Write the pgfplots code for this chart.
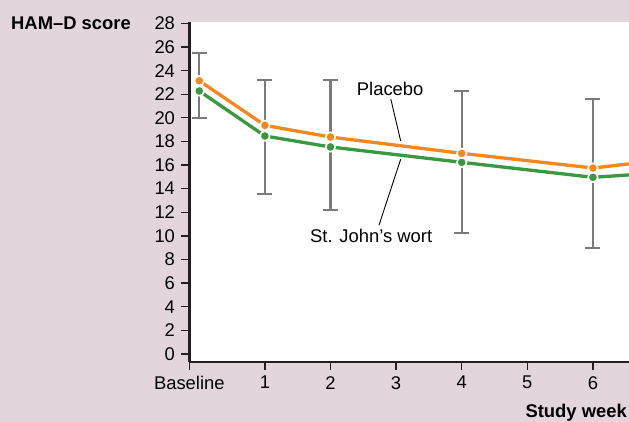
\documentclass[border=0pt]{standalone}
\usepackage{pgfplots}
\pgfplotsset{compat=1.18}
\usepackage{fontspec}
\setmainfont{Liberation Sans}
\definecolor{bgpink}{RGB}{227,213,220}
\definecolor{plorange}{RGB}{245,135,31}
\definecolor{sjgreen}{RGB}{58,152,64}
\definecolor{errgray}{RGB}{122,122,122}
\definecolor{axblack}{RGB}{35,31,32}
\begin{document}
\fontsize{18.4}{22}\selectfont
\begin{tikzpicture}
\path[use as bounding box, fill=bgpink] (0,0) rectangle (629pt,422pt);
\begin{axis}[
  scale only axis, width=439.7pt, height=340.3pt,
  at={(189.3pt,60pt)}, anchor=south west,
  xmin=-0.152, xmax=6.55, ymin=-0.68, ymax=28.14,
  axis lines*=left,
  axis line style={-, line width=2.4pt, color=axblack},
  axis background/.style={fill=white},
  xtick={-0.152,1,2,3,4,5,6}, xticklabels={Baseline,1,2,3,4,5,6},
  ytick={0,2,...,28},
  tick align=outside, major tick length=8pt,
  tick style={line width=1.3pt, color=axblack},
  ticklabel style={font=\fontsize{18.4}{22}\selectfont, text=black},
  /pgf/number format/assume math mode=true,
  clip marker paths=true,
]
\addplot[forget plot, draw=none, mark=none,
  error bars/.cd, y dir=both, y explicit, error mark=|,
  error bar style={draw=errgray, solid, line width=2.2pt},
  error mark options={draw=errgray, solid, line width=2.2pt, mark size=7.5pt}]
coordinates {(0,22.73) +- (0,2.73) (1,18.36) +- (0,4.81) (2,17.67) +- (0,5.5) (4,16.245) +- (0,6.025) (6,15.285) +- (0,6.285)};
\addplot[sjgreen, line width=3.3pt, mark=*, mark size=4.8pt,
  mark options={fill=sjgreen, draw=white, line width=1.6pt}]
coordinates {(0,22.27) (1,18.46) (2,17.53) (4,16.23) (6,14.96) (8,15.7)};
\addplot[plorange, line width=3.3pt, mark=*, mark size=4.8pt,
  mark options={fill=plorange, draw=white, line width=1.6pt}]
coordinates {(0,23.14) (1,19.36) (2,18.37) (4,16.99) (6,15.75) (8,17.0)};
\draw[black, line width=0.9pt] (axis cs:2.92,21.57) -- (axis cs:3.07,18.04);
\draw[black, line width=0.9pt] (axis cs:3.07,16.49) -- (axis cs:2.74,10.92);
\node[anchor=base, inner sep=0pt] at (axis cs:2.91,21.93) {Placebo};
\node[anchor=base, inner sep=0pt] at (axis cs:2.62,9.42) {St. John’s wort};
\end{axis}
\node[anchor=base west, inner sep=0pt, font=\bfseries] at (11pt,392.7pt) {HAM–D score};
\node[anchor=base east, inner sep=0pt, font=\bfseries] at (627pt,4.2pt) {Study week};
\end{tikzpicture}
\end{document}
